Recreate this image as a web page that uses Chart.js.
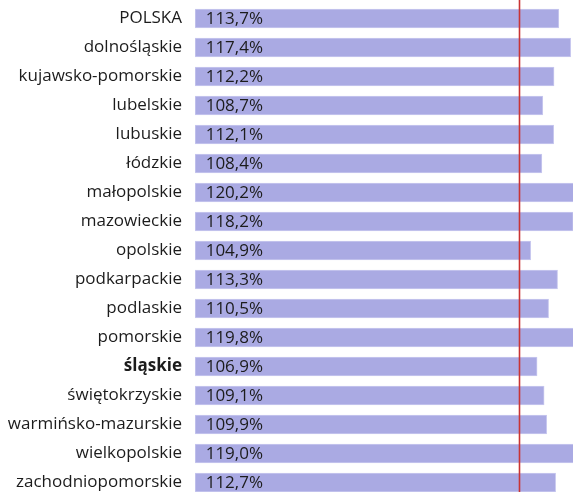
<!DOCTYPE html>
<html>
<head>
<meta charset="utf-8">
<script src="https://cdn.jsdelivr.net/npm/chart.js@4/dist/chart.umd.min.js"></script>
<style>
  html, body { margin: 0; padding: 0; background: #fff; overflow: hidden; }
  #wrap { position: absolute; left: 0; top: 0; width: 573px; height: 502px; }
</style>
</head>
<body>
<div id="wrap"><canvas id="chart" width="573" height="502"></canvas></div>
<script>
// Regions and their values (in %), top to bottom as in the picture
const categories = [
  'POLSKA', 'dolnośląskie', 'kujawsko-pomorskie', 'lubelskie', 'lubuskie',
  'łódzkie', 'małopolskie', 'mazowieckie', 'opolskie', 'podkarpackie',
  'podlaskie', 'pomorskie', 'śląskie', 'świętokrzyskie',
  'warmińsko-mazurskie', 'wielkopolskie', 'zachodniopomorskie'
];
const values = [
  113.7, 117.4, 112.2, 108.7, 112.1,
  108.4, 120.2, 118.2, 104.9, 113.3,
  110.5, 119.8, 106.9, 109.1,
  109.9, 119.0, 112.7
];
const highlighted = ['śląskie'];
const refValue = 101.3;   // red vertical line

const FONT = '"Open Sans", "Noto Sans", sans-serif';
const FONT_SIZE = 17;
const TEXT = '#1c1c1c';
const BAR = '#aaaae3';

const fmt = v => v.toFixed(1).replace('.', ',') + '%';

// values printed inside the bars, right-aligned near the bar start
const valueLabels = {
  id: 'valueLabels',
  afterDatasetsDraw(chart) {
    const { ctx, scales: { x } } = chart;
    const meta = chart.getDatasetMeta(0);
    ctx.save();
    ctx.font = FONT_SIZE + 'px ' + FONT;
    ctx.fillStyle = TEXT;
    ctx.textAlign = 'right';
    ctx.textBaseline = 'middle';
    meta.data.forEach((bar, i) => {
      ctx.fillText(fmt(values[i]), x.left + 68, bar.y + 1);
    });
    ctx.restore();
  }
};

// red reference line across the whole height
const refLine = {
  id: 'refLine',
  afterDraw(chart) {
    const { ctx, scales: { x } } = chart;
    const px = Math.round(x.getPixelForValue(refValue)) + 0.5;
    ctx.save();
    ctx.strokeStyle = '#c93434';
    ctx.lineWidth = 1.6;
    ctx.beginPath();
    ctx.moveTo(px, 0);
    ctx.lineTo(px, chart.height);
    ctx.stroke();
    ctx.restore();
  }
};

new Chart(document.getElementById('chart'), {
  type: 'bar',
  data: {
    labels: categories,
    datasets: [{
      data: values,
      backgroundColor: BAR,
      borderColor: '#c9c9ef',
      borderWidth: 1,
      borderSkipped: false,
      barThickness: 19,
    }],
  },
  options: {
    indexAxis: 'y',
    responsive: false,
    animation: false,
    devicePixelRatio: 1,
    layout: { padding: { top: 4, bottom: 5, left: 0, right: 0 } },
    scales: {
      x: {
        display: false,
        min: 0,
        max: 118.125,
      },
      y: {
        grid: { display: false, drawTicks: false },
        border: { display: false },
        afterFit: scale => {
          scale.width = 195;
          // no extra room above/below for the first and last labels
          scale.paddingTop = 0;
          scale.paddingBottom = 0;
        },
        ticks: {
          padding: 13,
          color: TEXT,
          font: ctx => ({
            family: FONT,
            size: FONT_SIZE,
            weight: highlighted.includes(categories[ctx.index]) ? 'bold' : 'normal',
          }),
        },
      },
    },
    plugins: {
      legend: { display: false },
      tooltip: { enabled: false },
    },
  },
  plugins: [valueLabels, refLine],
});
</script>
</body>
</html>
